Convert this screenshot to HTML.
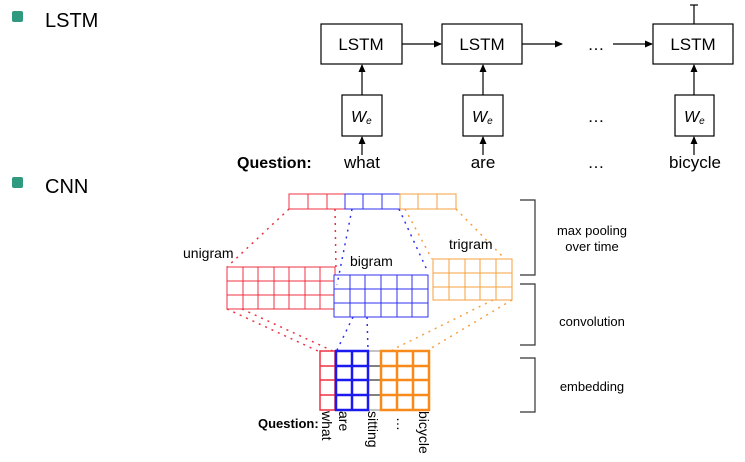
<!DOCTYPE html>
<html><head><style>
html,body{margin:0;padding:0;background:#fff;}
svg{display:block;font-family:"Liberation Sans",Arial,sans-serif;}
</style></head><body>
<svg width="745" height="462" viewBox="0 0 745 462" xmlns="http://www.w3.org/2000/svg">
<defs>
<marker id="ar" markerWidth="8" markerHeight="8" refX="7" refY="4" orient="auto" markerUnits="userSpaceOnUse"><path d="M0,0.5 L8,4 L0,7.5 z" fill="#000"/></marker>
</defs>
<!-- bullets -->
<rect x="12" y="11" width="11" height="11" rx="2" fill="#2f9a7f"/>
<text x="45" y="27" font-size="20">LSTM</text>
<rect x="12" y="177" width="11" height="11" rx="2" fill="#2f9a7f"/>
<text x="45" y="193" font-size="20">CNN</text>

<!-- LSTM -->
<g fill="none" stroke="#000" stroke-width="1.2">
<rect x="321" y="24" width="81" height="40"/>
<rect x="442" y="24" width="80" height="40"/>
<rect x="653" y="24" width="80" height="40"/>
<rect x="342" y="95" width="40" height="41"/>
<rect x="463" y="95" width="40" height="41"/>
<rect x="675" y="95" width="39" height="41"/>
<line x1="402" y1="44" x2="441" y2="44" marker-end="url(#ar)"/>
<line x1="522" y1="44" x2="562" y2="44" marker-end="url(#ar)"/>
<line x1="613" y1="44" x2="652" y2="44" marker-end="url(#ar)"/>
<line x1="362" y1="95" x2="362" y2="65" marker-end="url(#ar)"/>
<line x1="483" y1="95" x2="483" y2="65" marker-end="url(#ar)"/>
<line x1="694" y1="95" x2="694" y2="65" marker-end="url(#ar)"/>
<line x1="362" y1="155" x2="362" y2="137" marker-end="url(#ar)"/>
<line x1="483" y1="155" x2="483" y2="137" marker-end="url(#ar)"/>
<line x1="694" y1="155" x2="694" y2="137" marker-end="url(#ar)"/>
<line x1="694" y1="24" x2="694" y2="5"/>
<line x1="690" y1="5" x2="698" y2="5"/>
</g>
<g font-size="17" text-anchor="middle">
<text x="361" y="50">LSTM</text><text x="482" y="50">LSTM</text><text x="693" y="50">LSTM</text>
<text x="596" y="50">…</text><text x="596" y="122">…</text><text x="596" y="168">…</text>
<text x="362" y="168">what</text><text x="483" y="168">are</text><text x="695" y="168">bicycle</text>
</g>
<g font-size="16" font-style="italic">
<text x="351" y="122">W<tspan font-size="10" dy="2">e</tspan></text>
<text x="472" y="122">W<tspan font-size="10" dy="2">e</tspan></text>
<text x="684" y="122">W<tspan font-size="10" dy="2">e</tspan></text>
</g>
<text x="237" y="168" font-size="16" font-weight="bold">Question:</text>

<!-- CNN top pooled -->
<g fill="none" stroke-width="1">
<g stroke="#f03040"><rect x="289" y="194" width="56" height="15"/><line x1="308" y1="194" x2="308" y2="209"/><line x1="327" y1="194" x2="327" y2="209"/></g>
<g stroke="#3030f0"><rect x="345" y="194" width="55" height="15"/><line x1="363" y1="194" x2="363" y2="209"/><line x1="382" y1="194" x2="382" y2="209"/></g>
<g stroke="#f7a040"><rect x="400" y="194" width="56" height="15"/><line x1="418" y1="194" x2="418" y2="209"/><line x1="437" y1="194" x2="437" y2="209"/></g>
</g>
<!-- unigram -->
<g fill="none" stroke="#f03040" stroke-width="1">
<rect x="227" y="267" width="108" height="42"/>
<line x1="227" y1="281" x2="335" y2="281"/><line x1="227" y1="295" x2="335" y2="295"/>
<line x1="243" y1="267" x2="243" y2="309"/><line x1="258" y1="267" x2="258" y2="309"/><line x1="274" y1="267" x2="274" y2="309"/><line x1="289" y1="267" x2="289" y2="309"/><line x1="305" y1="267" x2="305" y2="309"/><line x1="320" y1="267" x2="320" y2="309"/>
</g>
<!-- bigram -->
<g fill="#fff" stroke="#3030f0" stroke-width="1">
<rect x="334" y="275" width="94" height="42"/>
<line x1="334" y1="289" x2="428" y2="289"/><line x1="334" y1="303" x2="428" y2="303"/>
<line x1="350" y1="275" x2="350" y2="317"/><line x1="365" y1="275" x2="365" y2="317"/><line x1="381" y1="275" x2="381" y2="317"/><line x1="397" y1="275" x2="397" y2="317"/><line x1="412" y1="275" x2="412" y2="317"/>
</g>
<!-- trigram -->
<g fill="none" stroke="#f7a040" stroke-width="1">
<rect x="433" y="259" width="79" height="41"/>
<line x1="433" y1="273" x2="512" y2="273"/><line x1="433" y1="287" x2="512" y2="287"/>
<line x1="449" y1="259" x2="449" y2="300"/><line x1="465" y1="259" x2="465" y2="300"/><line x1="480" y1="259" x2="480" y2="300"/><line x1="496" y1="259" x2="496" y2="300"/>
</g>
<!-- dotted connectors -->
<g fill="none" stroke-width="1.5" stroke-dasharray="2,5">
<g stroke="#f03040"><line x1="289" y1="209" x2="227" y2="267"/><line x1="335" y1="209" x2="336" y2="270"/>
<line x1="227" y1="309" x2="320" y2="352"/><line x1="242" y1="309" x2="335" y2="352"/></g>
<g stroke="#3030f0"><line x1="352" y1="209" x2="337" y2="285"/><line x1="399" y1="209" x2="427" y2="270"/>
<line x1="353" y1="317" x2="337" y2="350"/><line x1="367" y1="317" x2="368" y2="350"/></g>
<g stroke="#f7a040"><line x1="405" y1="209" x2="432" y2="259"/><line x1="456" y1="209" x2="505" y2="259"/>
<line x1="493" y1="300" x2="392" y2="350"/><line x1="512" y1="300" x2="428" y2="350"/></g>
</g>
<g font-size="14"><text x="183" y="258">unigram</text><text x="350" y="266">bigram</text><text x="449" y="249">trigram</text></g>

<!-- embedding -->
<g fill="none">
<g stroke="#888" stroke-width="1"><rect x="368" y="351" width="13" height="59"/></g>
<g stroke="#000" stroke-width="1"><line x1="368" y1="366" x2="381" y2="366"/><line x1="368" y1="380" x2="381" y2="380"/><line x1="368" y1="395" x2="381" y2="395"/></g>
<g stroke="#f03040" stroke-width="1.5"><rect x="320" y="351" width="15" height="59"/><line x1="320" y1="366" x2="335" y2="366"/><line x1="320" y1="380" x2="335" y2="380"/><line x1="320" y1="395" x2="335" y2="395"/></g>
<g stroke="#1a1af0" stroke-width="2.5"><rect x="336" y="351" width="32" height="59"/><line x1="352" y1="351" x2="352" y2="410"/><line x1="336" y1="366" x2="368" y2="366"/><line x1="336" y1="380" x2="368" y2="380"/><line x1="336" y1="395" x2="368" y2="395"/></g>
<g stroke="#f78a1a" stroke-width="2.5"><rect x="381" y="351" width="48" height="59"/><line x1="397" y1="351" x2="397" y2="410"/><line x1="413" y1="351" x2="413" y2="410"/><line x1="381" y1="366" x2="429" y2="366"/><line x1="381" y1="380" x2="429" y2="380"/><line x1="381" y1="395" x2="429" y2="395"/></g>
</g>
<text x="258" y="428" font-size="13" font-weight="bold">Question:</text>
<g font-size="14">
<text transform="translate(322,411) rotate(90)">what</text>
<text transform="translate(339,411) rotate(90)">are</text>
<text transform="translate(368,411) rotate(90)">sitting</text>
<text transform="translate(397,417) rotate(90)">…</text>
<text transform="translate(419,411) rotate(90)">bicycle</text>
</g>

<!-- brackets -->
<g fill="none" stroke="#333" stroke-width="1.2">
<polyline points="520,200 535,200 535,275 520,275"/>
<polyline points="520,284 535,284 535,345 520,345"/>
<polyline points="520,358 535,358 535,412 520,412"/>
</g>
<g font-size="13" text-anchor="middle">
<text x="592" y="235">max pooling</text><text x="592" y="251">over time</text>
<text x="592" y="326">convolution</text>
<text x="592" y="391">embedding</text>
</g>
</svg>
</body></html>
